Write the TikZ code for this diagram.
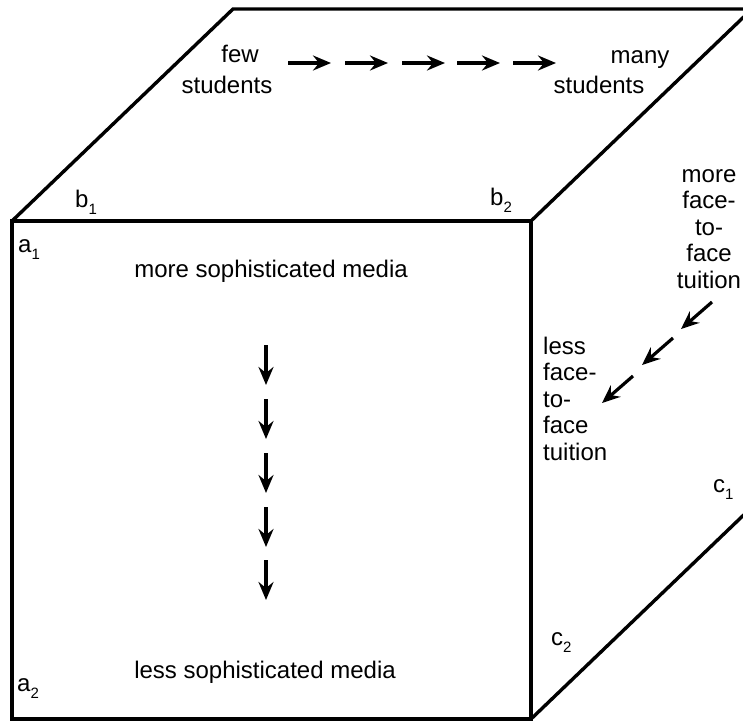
\documentclass[tikz,border=0pt]{standalone}
\usepackage{fontspec}
\setmainfont{Liberation Sans}
\usetikzlibrary{arrows.meta}
\tikzset{
  cube edge/.style={
    draw=black, line width=3.4pt, line join=miter
  },
  flow arrow/.style={
    draw=black, line width=3.8pt,
    -{Stealth[length=18pt, width=15pt, inset=6pt]}
  },
  face text/.style={
    font=\fontsize{24}{26.5}\selectfont, inner sep=0pt
  },
  corner label/.style={
    font=\fontsize{24}{26}\selectfont, inner sep=0pt, anchor=base west
  }
}
% 角标：字母加下标
\newcommand{\cornerlbl}[2]{#1\raisebox{-7pt}{\fontsize{15}{15}\selectfont #2}}

\begin{document}
\begin{tikzpicture}[x=1pt, y=-1pt]
  \useasboundingbox (0,0) rectangle (743,721);
  \clip (0,0) rectangle (743,721);

% ------------------------------------------------
% 立方体的顶点与棱
% ------------------------------------------------
  \coordinate (ftl) at ( 12,221);
  \coordinate (ftr) at (531,221);
  \coordinate (fbl) at ( 12,719);
  \coordinate (fbr) at (531,719);
  \coordinate (btl) at (233,  9);
  \coordinate (btr) at (752,  9);
  \coordinate (bbr) at (752,507);

  \draw[cube edge] (fbl) -- (ftl) -- (ftr) -- (fbr) -- cycle;
  \draw[cube edge] (ftl) -- (btl) -- (btr) -- (ftr);
  \draw[cube edge] (btr) -- (bbr) -- (fbr);

% ------------------------------------------------
% 角标 a, b, c
% ------------------------------------------------
  \node[corner label] (la1) at ( 18,252) {\cornerlbl{a}{1}};
  \node[corner label] (la2) at ( 17,691) {\cornerlbl{a}{2}};
  \node[corner label] (lb1) at ( 75,207) {\cornerlbl{b}{1}};
  \node[corner label] (lb2) at (490,205) {\cornerlbl{b}{2}};
  \node[corner label] (lc1) at (713,492) {\cornerlbl{c}{1}};
  \node[corner label] (lc2) at (551,645) {\cornerlbl{c}{2}};

% ------------------------------------------------
% 顶面：学生人数
% ------------------------------------------------
  \node[face text, anchor=base] (few)   at (240,62) {few};
  \node[face text, anchor=base] (fewst) at (227,93) {students};
  \node[face text, anchor=base] (many)  at (640,63) {many};
  \node[face text, anchor=base] (manyst) at (599,93) {students};

  \foreach \i/\x in {1/288, 2/345, 3/402, 4/457, 5/513}{
    \coordinate (h\i s) at (\x,63);
    \coordinate (h\i e) at (\x+43,63);
    \draw[flow arrow] (h\i s) -- (h\i e);
  }

% ------------------------------------------------
% 正面：媒体
% ------------------------------------------------
  \node[face text, anchor=base] (moremedia) at (271,277) {more sophisticated media};
  \node[face text, anchor=base] (lessmedia) at (265,678) {less sophisticated media};

  \foreach \i/\y in {1/345, 2/399, 3/453, 4/507, 5/560}{
    \coordinate (v\i s) at (266,\y);
    \coordinate (v\i e) at (266,\y+40);
    \draw[flow arrow, line width=3.2pt] (v\i s) -- (v\i e);
  }

% ------------------------------------------------
% 侧面：面授辅导（多行节点的 base 在最后一行）
% ------------------------------------------------
  \node[face text, align=center, anchor=base] (moretuit) at (709,288)
    {more\\face-\\to-\\face\\tuition};
  \node[face text, align=left, anchor=base west] (lesstuit) at (543,460)
    {less\\face-\\to-\\face\\tuition};

  \foreach \i/\x/\y in {1/712/302, 2/673/338, 3/633/376}{
    \coordinate (d\i s) at (\x,\y);
    \coordinate (d\i e) at (\x-31,\y+27);
    \draw[flow arrow, line width=3.2pt] (d\i s) -- (d\i e);
  }
\end{tikzpicture}
\end{document}
